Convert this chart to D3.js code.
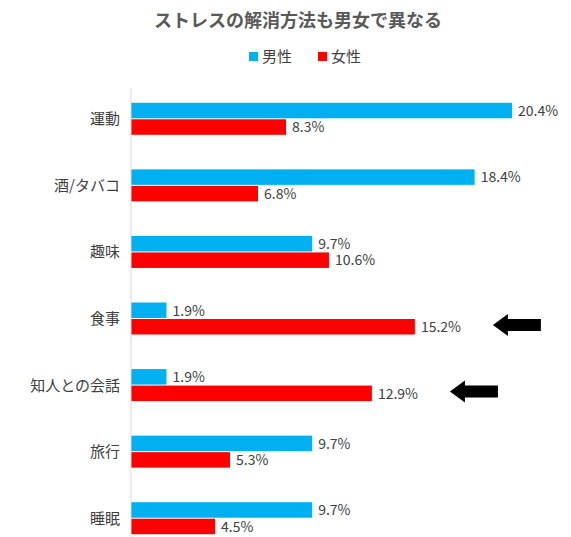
<!DOCTYPE html>
<html><head><meta charset="utf-8">
<script src="https://cdn.jsdelivr.net/npm/d3@7"></script>
<style>body{margin:0;background:#fff;font-family:"Noto Sans CJK JP",sans-serif}</style>
</head><body><svg id="c" width="571" height="537"></svg>
<script>
const categories=["運動","酒/タバコ","趣味","食事","知人との会話","旅行","睡眠"];
const male=[20.4,18.4,9.7,1.9,1.9,9.7,9.7];
const female=[8.3,6.8,10.6,15.2,12.9,5.3,4.5];
const seriesNames=["男性","女性"];
const arrowCats=["食事","知人との会話"];
const colors=["#00B0F0","#FF0000"];
const svg=d3.select("#c");
const x=d3.scaleLinear().domain([0,20.4]).range([131,512]);
const y=d3.scaleBand().domain(categories).range([86,552]).padding(0);
const sub=d3.scaleBand().domain([0,1]).range([0,33]);
svg.append("text").attr("x",298).attr("y",27).attr("text-anchor","middle").attr("font-size",18).attr("font-weight","bold").attr("fill","#595959").text("ストレスの解消方法も男女で異なる");
seriesNames.forEach((n,i)=>{
 const lx=[249,318][i];
 svg.append("rect").attr("x",lx).attr("y",52).attr("width",9).attr("height",9).attr("fill",colors[i]);
 svg.append("text").attr("x",lx+13).attr("y",62).attr("font-size",15).attr("fill","#404040").text(n);
});
[male,female].forEach((arr,s)=>{
 categories.forEach((c,i)=>{
  const yy=y(c)+y.bandwidth()/2-16.5+sub(s);
  svg.append("rect").attr("x",x(0)).attr("y",yy).attr("width",x(arr[i])-x(0)).attr("height",sub.bandwidth()-1).attr("fill",colors[s]);
  svg.append("text").attr("x",x(arr[i])+6).attr("y",yy+13).attr("font-size",14).attr("fill","#404040").text(arr[i].toFixed(1)+"%");
 });
});
categories.forEach(c=>{
 svg.append("text").attr("x",120).attr("y",y(c)+y.bandwidth()/2+5).attr("text-anchor","end").attr("font-size",15).attr("fill","#404040").text(c);
});
svg.append("line").attr("x1",131).attr("x2",131).attr("y1",88).attr("y2",537).attr("stroke","#d9d9d9");
arrowCats.forEach(c=>{
 const i=categories.indexOf(c);
 const cy=y(c)+y.bandwidth()/2+6;
 const x0=x(female[i])+78;
 svg.append("path").attr("d",`M${x0},${cy} L${x0+15},${cy-11} L${x0+15},${cy-6} L${x0+48},${cy-6} L${x0+48},${cy+6} L${x0+15},${cy+6} L${x0+15},${cy+11} Z`).attr("fill","#000");
});
</script></body></html>
